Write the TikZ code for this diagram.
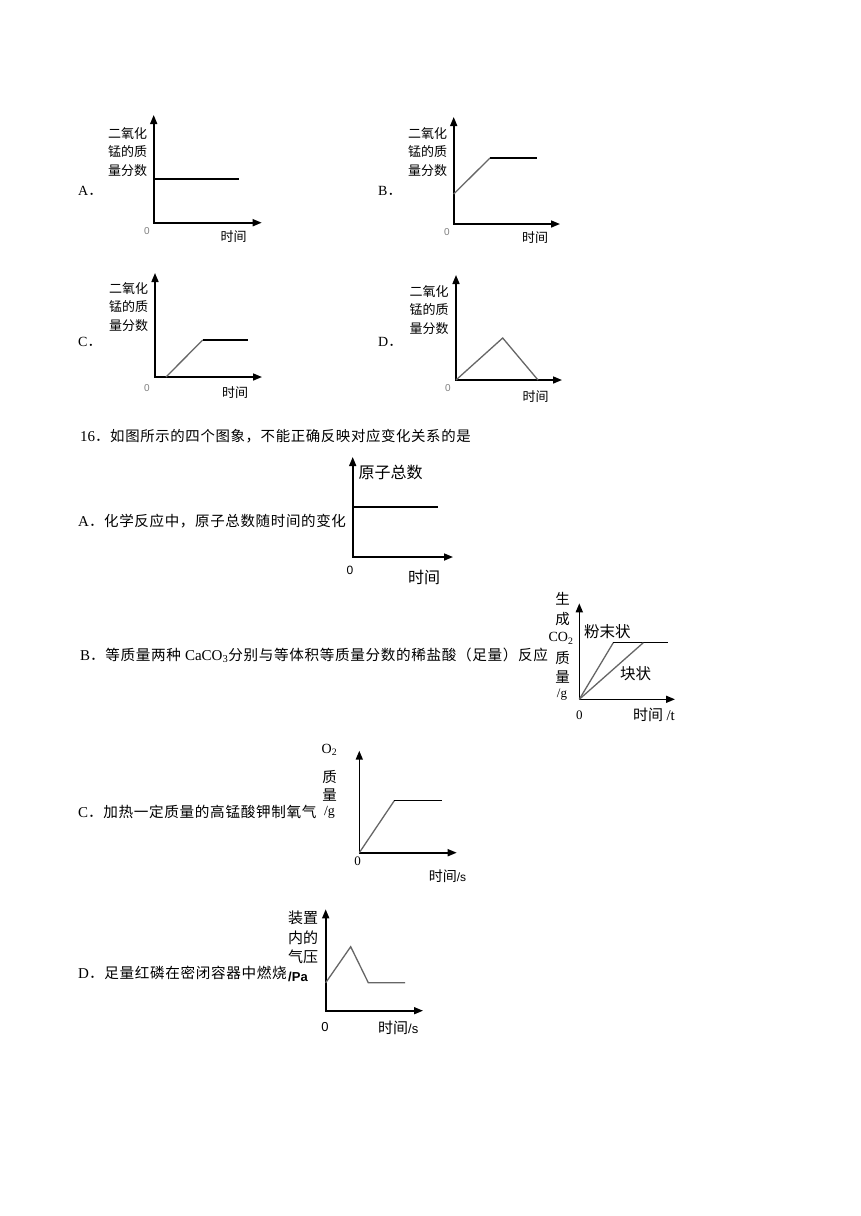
\documentclass[tikz,border=0pt]{standalone}
\usepackage{fontspec}
\setmainfont{Liberation Serif}
\newfontfamily\cjk{Noto Sans CJK SC}
\newfontfamily\cjkt[LetterSpace=4.5]{Noto Sans CJK SC}
\newfontfamily\cjkb[LetterSpace=4.5]{Noto Sans CJK SC}
\newfontfamily\lsans{Liberation Sans}
\usetikzlibrary{arrows.meta}
\definecolor{curvegray}{HTML}{666666}
\definecolor{zerogray}{HTML}{808080}
\begin{document}
\begin{tikzpicture}[x=1pt,y=-1pt,
  axis/.style={line width=1.6pt,{Triangle[length=9pt,width=7pt]}-{Triangle[length=9pt,width=7pt]}},
  curve/.style={line width=1.3pt,draw=curvegray,line join=miter},
  flat/.style={line width=1.3pt,draw=black},
  ylab/.style={inner sep=0pt,align=left,font=\cjk\fontsize{13}{18.5}\selectfont},
  tlab/.style={inner sep=0pt,font=\cjk\fontsize{13}{16}\selectfont},
  zero/.style={inner sep=0pt,text=zerogray,font=\lsans\fontsize{10}{12}\selectfont},
  qtext/.style={inner sep=0pt,anchor=west,font=\fontsize{15}{18}\selectfont},
  letter/.style={inner sep=0pt,anchor=west,font=\fontsize{14}{16}\selectfont}]
\useasboundingbox (0,0) rectangle (860,1216);
\fill[white] (0,0) rectangle (860,1216);

% ---------- Graph A (top) ----------
\coordinate (aO) at (153.7,222.7);
\coordinate (aY) at (153.7,115);
\coordinate (aX) at (261.7,222.7);
\coordinate (a1) at (153.7,179);
\coordinate (a2) at (239,179);
\draw[axis] (aY) -- (aO) -- (aX);
\draw[flat] (a1) -- (a2);
\node[ylab] (aLab) at (127.5,152) {二氧化\\锰的质\\量分数};
\node[letter] (aLet) at (78,191) {A{\cjk ．}};
\node[zero] (aZero) at (147,231) {0};
\node[tlab] (aT) at (233.5,237) {时间};

% ---------- Graph B (top) ----------
\coordinate (bO) at (453.7,224);
\coordinate (bY) at (453.7,117);
\coordinate (bX) at (560,224);
\coordinate (b1) at (453.7,194);
\coordinate (b2) at (490,158);
\coordinate (b3) at (537,158);
\draw[axis] (bY) -- (bO) -- (bX);
\draw[curve] (b1) -- (b2);
\draw[flat] (b2) -- (b3);
\node[ylab] (bLab) at (427.5,152) {二氧化\\锰的质\\量分数};
\node[letter] (bLet) at (378,191) {B{\cjk ．}};
\node[zero] (bZero) at (447,232) {0};
\node[tlab] (bT) at (535,238) {时间};

% ---------- Graph C (top) ----------
\coordinate (cO) at (155,377);
\coordinate (cY) at (155,273);
\coordinate (cX) at (262,377);
\coordinate (c1) at (166,377);
\coordinate (c2) at (202.7,340);
\coordinate (c3) at (248,340);
\draw[axis] (cY) -- (cO) -- (cX);
\draw[curve] (c1) -- (c2);
\draw[flat] (c2) -- (c3);
\node[ylab] (cLab) at (128.5,307) {二氧化\\锰的质\\量分数};
\node[letter] (cLet) at (78,342) {C{\cjk ．}};
\node[zero] (cZero) at (147,388) {0};
\node[tlab] (cT) at (235,393) {时间};

% ---------- Graph D (top) ----------
\coordinate (dO) at (456,380);
\coordinate (dY) at (456,275);
\coordinate (dX) at (562,380);
\coordinate (d1) at (502.7,338);
\coordinate (d2) at (538,380);
\draw[axis] (dY) -- (dO) -- (dX);
\draw[curve] (dO) -- (d1) -- (d2);
\node[ylab] (dLab) at (429,310) {二氧化\\锰的质\\量分数};
\node[letter] (dLet) at (378,342) {D{\cjk ．}};
\node[zero] (dZero) at (448,388) {0};
\node[tlab] (dT) at (535.5,397) {时间};

% ---------- Question 16 ----------
\node[qtext] (q16) at (80,436) {16{\cjkt\fontsize{14.4}{18}\selectfont ．如图所示的四个图象，不能正确反映对应变化关系的是}};

% ---------- 16 A ----------
\coordinate (eO) at (352.7,557);
\coordinate (eY) at (352.7,457);
\coordinate (eX) at (453,557);
\coordinate (e1) at (352.7,507);
\coordinate (e2) at (438,507);
\draw[axis] (eY) -- (eO) -- (eX);
\draw[flat] (e1) -- (e2);
\node[inner sep=0pt,font=\cjk\fontsize{16}{18}\selectfont] (eLab) at (390.5,472) {原子总数};
\node[qtext] (eTxt) at (78,521) {A{\cjkt\fontsize{14.5}{18}\selectfont ．化学反应中，原子总数随时间的变化}};
\node[inner sep=0pt,font=\lsans\fontsize{12}{14}\selectfont] (eZero) at (350,570) {0};
\node[inner sep=0pt,font=\cjk\fontsize{16}{18}\selectfont] (eT) at (424,577) {时间};

% ---------- 16 B ----------
\coordinate (fO) at (579.3,699.3);
\coordinate (fY) at (579.3,603.3);
\coordinate (fX) at (675,699.3);
\coordinate (f1) at (613.3,642.7);
\coordinate (f2) at (667.7,642.7);
\coordinate (f3) at (643.3,642.7);
\draw[axis] (fY) -- (fO) -- (fX);
\draw[curve] (fO) -- (f1);
\draw[flat] (f1) -- (f2);
\draw[curve] (fO) -- (f3);
\node[inner sep=0pt,font=\cjk\fontsize{14.5}{16}\selectfont] (fL1) at (562.7,598.3) {生};
\node[inner sep=0pt,font=\cjk\fontsize{14.5}{16}\selectfont] (fL2) at (562.7,619) {成};
\node[inner sep=0pt,font=\fontsize{14}{16}\selectfont] (fL3) at (561,638.3) {CO\textsubscript{2}};
\node[inner sep=0pt,font=\cjk\fontsize{14.5}{16}\selectfont] (fL4) at (562.7,658.3) {质};
\node[inner sep=0pt,font=\cjk\fontsize{14.5}{16}\selectfont] (fL5) at (562.7,677.3) {量};
\node[inner sep=0pt,font=\fontsize{13}{16}\selectfont] (fL6) at (562,695) {/g};
\node[inner sep=0pt,font=\cjk\fontsize{15.5}{16}\selectfont] (fP) at (607.3,631.7) {粉末状};
\node[inner sep=0pt,font=\cjk\fontsize{15.5}{16}\selectfont] (fK) at (635.7,673.3) {块状};
\node[inner sep=0pt,font=\fontsize{13}{16}\selectfont] (fZero) at (579.3,715) {0};
\node[inner sep=0pt,font=\cjk\fontsize{15}{16}\selectfont] (fT) at (654,715) {时间 {\rmfamily /t}};
\node[qtext] (fTxt) at (80,655) {B{\cjkb\fontsize{14.6}{16}\selectfont ．等质量两种 }{\fontsize{15}{16}\selectfont CaCO\textsubscript{3}}{\cjkb\fontsize{14.6}{16}\selectfont 分别与等体积等质量分数的稀盐酸（足量）反应}};

% ---------- 16 C ----------
\coordinate (gO) at (359.3,852.7);
\coordinate (gY) at (359.3,750.7);
\coordinate (gX) at (456.7,852.7);
\coordinate (g1) at (394.3,800.7);
\coordinate (g2) at (441.7,800.7);
\draw[axis] (gY) -- (gO) -- (gX);
\draw[curve] (gO) -- (g1);
\draw[flat] (g1) -- (g2);
\node[inner sep=0pt,font=\fontsize{14}{16}\selectfont] (gL1) at (329.5,750) {O\textsubscript{2}};
\node[inner sep=0pt,font=\cjk\fontsize{14.5}{16}\selectfont] (gL2) at (329.5,776.7) {质};
\node[inner sep=0pt,font=\cjk\fontsize{14.5}{16}\selectfont] (gL3) at (329.5,795) {量};
\node[inner sep=0pt,font=\fontsize{14}{16}\selectfont] (gL4) at (329.5,812) {/g};
\node[inner sep=0pt,font=\fontsize{13}{16}\selectfont] (gZero) at (357.7,861) {0};
\node[inner sep=0pt,font=\cjk\fontsize{14}{16}\selectfont] (gT) at (447.5,876.7) {时间{\lsans\fontsize{12}{14}\selectfont /s}};
\node[qtext] (gTxt) at (78,812) {C{\cjkt\fontsize{14.6}{18}\selectfont ．加热一定质量的高锰酸钾制氧气}};

% ---------- 16 D ----------
\coordinate (hO) at (325.7,1010.7);
\coordinate (hY) at (325.7,909.3);
\coordinate (hX) at (423,1010.7);
\coordinate (h1) at (325.7,982.7);
\coordinate (h2) at (350.7,946.7);
\coordinate (h3) at (368.3,982.7);
\coordinate (h4) at (405,982.7);
\draw[axis] (hY) -- (hO) -- (hX);
\draw[curve] (h1) -- (h2) -- (h3) -- (h4);
\node[inner sep=0pt,align=left,font=\cjk\fontsize{15}{19.3}\selectfont] (hLab) at (303,937.5) {装置\\内的\\气压};
\node[inner sep=0pt,font=\lsans\bfseries\fontsize{13}{16}\selectfont] (hL4) at (298,977) {/Pa};
\node[inner sep=0pt,font=\lsans\fontsize{13}{16}\selectfont] (hZero) at (325,1026.7) {0};
\node[inner sep=0pt,font=\cjk\fontsize{15}{16}\selectfont] (hT) at (398.3,1028) {时间{\lsans\fontsize{13}{14}\selectfont /s}};
\node[qtext] (hTxt) at (78,972.7) {D{\cjkt\fontsize{14.6}{18}\selectfont ．足量红磷在密闭容器中燃烧}};
\end{tikzpicture}
\end{document}
